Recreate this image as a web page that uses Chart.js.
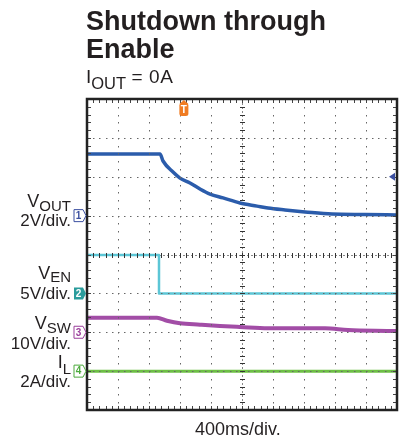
<!DOCTYPE html>
<html>
<head>
<meta charset="utf-8">
<script src="https://cdn.jsdelivr.net/npm/chart.js@4.4.1/dist/chart.umd.min.js"></script>
<style>
html, body { margin: 0; padding: 0; background: #fff; }
#wrap { position: relative; width: 399px; height: 441px; overflow: hidden;
        font-family: "Liberation Sans", Arial, Helvetica, sans-serif; color: #231f20; }
#wrap canvas { position: absolute; left: 0; top: 0; }
.t { position: absolute; white-space: nowrap; line-height: 1; }
.r { right: 328px; text-align: right; }
.sub { position: relative; font-size: 15px; }
</style>
</head>
<body>
<div id="wrap">
  <canvas id="scope" width="399" height="441"></canvas>

  <div class="t" style="left:86px;top:7.8px;font-size:27px;font-weight:bold">Shutdown through</div>
  <div class="t" style="left:86px;top:36.4px;font-size:27px;font-weight:bold">Enable</div>
  <div class="t" style="left:86px;top:67px;font-size:19px">I<span class="sub" style="top:6px;font-size:16.5px">OUT</span></div>
  <div class="t" style="left:131.5px;top:67px;font-size:19px;letter-spacing:0.6px">= 0A</div>

  <div class="t r" style="top:191.8px;font-size:18px">V<span class="sub" style="top:4px">OUT</span></div>
  <div class="t r" style="top:211.6px;font-size:17px">2V/div.</div>
  <div class="t r" style="top:263.8px;font-size:18px">V<span class="sub" style="top:3px">EN</span></div>
  <div class="t r" style="top:284.6px;font-size:17px">5V/div.</div>
  <div class="t r" style="top:313.8px;font-size:18px">V<span class="sub" style="top:4px">SW</span></div>
  <div class="t r" style="top:334.6px;font-size:17px">10V/div.</div>
  <div class="t r" style="top:352.8px;font-size:18px">I<span class="sub" style="top:6px">L</span></div>
  <div class="t r" style="top:372.6px;font-size:17px">2A/div.</div>

  <div class="t" style="left:195px;top:419.8px;font-size:18px">400ms/div.</div>
</div>

<script>
// scope screen: 10 x 8 divisions, 400 ms per division
const msPerDiv = 400;
const xDivs = 10;
const yDivs = 8;

// Channel 1: VOUT (V)
const voutTime  = [0, 942, 981, 1110, 1200, 1329, 1458, 1587, 1755, 1974, 2194, 2335, 2555, 2813, 3161, 3587, 4000];
const voutVolts = [3.17, 3.17, 2.81, 2.24, 1.93, 1.68, 1.37, 1.11, 0.91, 0.65, 0.49, 0.39, 0.29, 0.19, 0.08, 0.06, 0.03];

// Channel 2: VEN (V)
const venTime  = [0, 929, 929, 4000];
const venVolts = [4.94, 4.94, 0, 0];

// Channel 3: VSW (V)
const vswTime  = [0, 903, 1032, 1200, 1458, 1716, 1974, 2335, 3071, 3368, 3974, 4000];
const vswVolts = [3.74, 3.74, 2.97, 2.30, 1.94, 1.61, 1.35, 1.02, 1.02, 0.58, 0.32, 0.30];

// Channel 4: IL (A)
const ilTime = [0, 4000];
const ilAmps = [0, 0];

// trigger position (ms) and channel 1 trigger level (V)
const triggerTime = 1250;
const triggerLevel = 2;

// units per division and ground marker (in divisions from the bottom)
const ch1 = { perDiv: 2,  ground: 5, color: '#2b5cab', tag: '#3b4fa0' };
const ch2 = { perDiv: 5,  ground: 3, color: '#5cc6d6', tag: '#2a9c9c' };
const ch3 = { perDiv: 10, ground: 2, color: '#a24da6', tag: '#9b3f9b' };
const ch4 = { perDiv: 2,  ground: 1, color: '#6dbf45', tag: '#4caa3c' };

function toDivs(times, values, ch) {
    return times.map((t, i) => ({ x: t, y: ch.ground + values[i] / ch.perDiv }));
}

function drawTag(ctx, xRight, yc, label, color, filled) {
    const w = 9, h = 12, tip = 3;
    const x0 = xRight - tip - w;
    ctx.beginPath();
    ctx.moveTo(x0, yc - h / 2);
    ctx.lineTo(x0 + w, yc - h / 2);
    ctx.lineTo(x0 + w + tip, yc);
    ctx.lineTo(x0 + w, yc + h / 2);
    ctx.lineTo(x0, yc + h / 2);
    ctx.closePath();
    ctx.lineWidth = 1;
    if (filled) {
        ctx.fillStyle = color;
        ctx.fill();
    } else {
        ctx.fillStyle = '#fff';
        ctx.fill();
        ctx.strokeStyle = color;
        ctx.stroke();
    }
    ctx.fillStyle = filled ? '#fff' : color;
    ctx.font = 'bold 10px "Liberation Sans", Arial, sans-serif';
    ctx.textAlign = 'center';
    ctx.textBaseline = 'middle';
    ctx.fillText(label, x0 + w / 2, yc + 0.5);
}

// graticule, border, channel tags and trigger markers
const scopeScreen = {
    id: 'scopeScreen',
    beforeDatasetsDraw(chart) {
        const { ctx, chartArea: a, scales: { x, y } } = chart;
        // dashed centre lines go under the traces
        let cx = Math.round(x.getPixelForValue(xDivs / 2 * msPerDiv)) + 0.5;
        let cy = Math.round(y.getPixelForValue(yDivs / 2)) + 0.5;
        ctx.save();
        ctx.strokeStyle = '#888';
        ctx.lineWidth = 1;
        ctx.setLineDash([2, 2]);
        ctx.beginPath();
        ctx.moveTo(cx, a.top); ctx.lineTo(cx, a.bottom);
        ctx.moveTo(a.left, cy); ctx.lineTo(a.right, cy);
        ctx.stroke();
        ctx.restore();
    },
    afterDatasetsDraw(chart) {
        const { ctx, chartArea: a, scales: { x, y } } = chart;
        const minorX = msPerDiv / 5;
        ctx.save();

        // dotted grid
        ctx.fillStyle = '#666';
        for (let i = 1; i < xDivs; i++) {
            if (i == xDivs / 2) continue;
            let px = Math.round(x.getPixelForValue(i * msPerDiv));
            for (let j = 1; j < yDivs * 5; j++) {
                ctx.fillRect(px, Math.round(y.getPixelForValue(j / 5)), 1, 1.5);
            }
        }
        for (let j = 1; j < yDivs; j++) {
            if (j == yDivs / 2) continue;
            let py = Math.round(y.getPixelForValue(j));
            for (let i = 1; i < xDivs * 5; i++) {
                ctx.fillRect(Math.round(x.getPixelForValue(i * minorX)), py, 1.5, 1);
            }
        }

        // minor ticks on the centre lines
        let cx = Math.round(x.getPixelForValue(xDivs / 2 * msPerDiv)) + 0.5;
        let cy = Math.round(y.getPixelForValue(yDivs / 2)) + 0.5;
        ctx.strokeStyle = '#333';
        ctx.lineWidth = 1;
        ctx.beginPath();
        for (let j = 1; j < yDivs * 5; j++) {
            let py = Math.round(y.getPixelForValue(j / 5)) + 0.5;
            ctx.moveTo(cx - 2.5, py); ctx.lineTo(cx + 2.5, py);
        }
        for (let i = 1; i < xDivs * 5; i++) {
            let px = Math.round(x.getPixelForValue(i * minorX)) + 0.5;
            ctx.moveTo(px, cy - 2.5); ctx.lineTo(px, cy + 2.5);
        }
        ctx.stroke();

        // ticks along the border
        ctx.strokeStyle = '#444';
        ctx.beginPath();
        for (let i = 1; i < xDivs * 5; i++) {
            let px = Math.round(x.getPixelForValue(i * minorX)) + 0.5;
            ctx.moveTo(px, a.top); ctx.lineTo(px, a.top + 4);
            ctx.moveTo(px, a.bottom); ctx.lineTo(px, a.bottom - 4);
        }
        for (let j = 1; j < yDivs * 5; j++) {
            let py = Math.round(y.getPixelForValue(j / 5)) + 0.5;
            ctx.moveTo(a.left, py); ctx.lineTo(a.left + 4, py);
            ctx.moveTo(a.right, py); ctx.lineTo(a.right - 4, py);
        }
        ctx.stroke();

        // frame
        ctx.strokeStyle = '#222';
        ctx.lineWidth = 2.5;
        ctx.strokeRect(a.left, a.top, a.right - a.left, a.bottom - a.top);
        ctx.restore();
    },
    afterDraw(chart) {
        const { ctx, chartArea: a, scales: { x, y } } = chart;
        ctx.save();

        // channel ground tags
        drawTag(ctx, a.left - 1, y.getPixelForValue(ch1.ground), '1', ch1.tag, false);
        drawTag(ctx, a.left - 1, y.getPixelForValue(ch2.ground), '2', ch2.tag, true);
        drawTag(ctx, a.left - 1, y.getPixelForValue(ch3.ground), '3', ch3.tag, false);
        drawTag(ctx, a.left - 1, y.getPixelForValue(ch4.ground), '4', ch4.tag, false);

        // trigger level arrow on the right
        let ty = y.getPixelForValue(ch1.ground + triggerLevel / ch1.perDiv);
        ctx.fillStyle = ch1.tag;
        ctx.beginPath();
        ctx.moveTo(a.right - 8, ty);
        ctx.lineTo(a.right - 2, ty - 4);
        ctx.lineTo(a.right - 2, ty + 4);
        ctx.closePath();
        ctx.fill();

        // trigger position marker at the top
        let tx = x.getPixelForValue(triggerTime);
        ctx.fillStyle = '#f07c22';
        ctx.beginPath();
        ctx.moveTo(tx, a.top + 1);
        ctx.lineTo(tx + 4.5, a.top + 5);
        ctx.lineTo(tx - 4.5, a.top + 5);
        ctx.closePath();
        ctx.fill();
        ctx.beginPath();
        ctx.roundRect(tx - 4.5, a.top + 4, 9, 13, 2.5);
        ctx.fill();
        ctx.fillStyle = '#fff';
        ctx.font = 'bold 10px "Liberation Sans", Arial, sans-serif';
        ctx.textAlign = 'center';
        ctx.textBaseline = 'middle';
        ctx.fillText('T', tx, a.top + 11);
        ctx.restore();
    }
};

const ctx = document.getElementById('scope');

let chart = new Chart(ctx, {
    type: 'line',
    data: {
        datasets: [{
            label: 'IL',
            data: toDivs(ilTime, ilAmps, ch4),
            borderColor: ch4.color,
            borderWidth: 3
        }, {
            label: 'VSW',
            data: toDivs(vswTime, vswVolts, ch3),
            borderColor: ch3.color,
            borderWidth: 4,
            cubicInterpolationMode: 'monotone'
        }, {
            label: 'VEN',
            data: toDivs(venTime, venVolts, ch2),
            borderColor: ch2.color,
            borderWidth: 2.5
        }, {
            label: 'VOUT',
            data: toDivs(voutTime, voutVolts, ch1),
            borderColor: ch1.color,
            borderWidth: 3.5,
            cubicInterpolationMode: 'monotone'
        }]
    },
    options: {
        responsive: false,
        animation: false,
        devicePixelRatio: 1,
        layout: {
            padding: { left: 87, top: 99, right: 2, bottom: 31 }
        },
        elements: {
            point: { radius: 0 },
            line: { tension: 0, borderJoinStyle: 'round' }
        },
        scales: {
            x: { type: 'linear', min: 0, max: xDivs * msPerDiv, display: false },
            y: { type: 'linear', min: 0, max: yDivs, display: false }
        },
        plugins: {
            legend: { display: false },
            tooltip: { enabled: false }
        }
    },
    plugins: [scopeScreen]
});
</script>
</body>
</html>
